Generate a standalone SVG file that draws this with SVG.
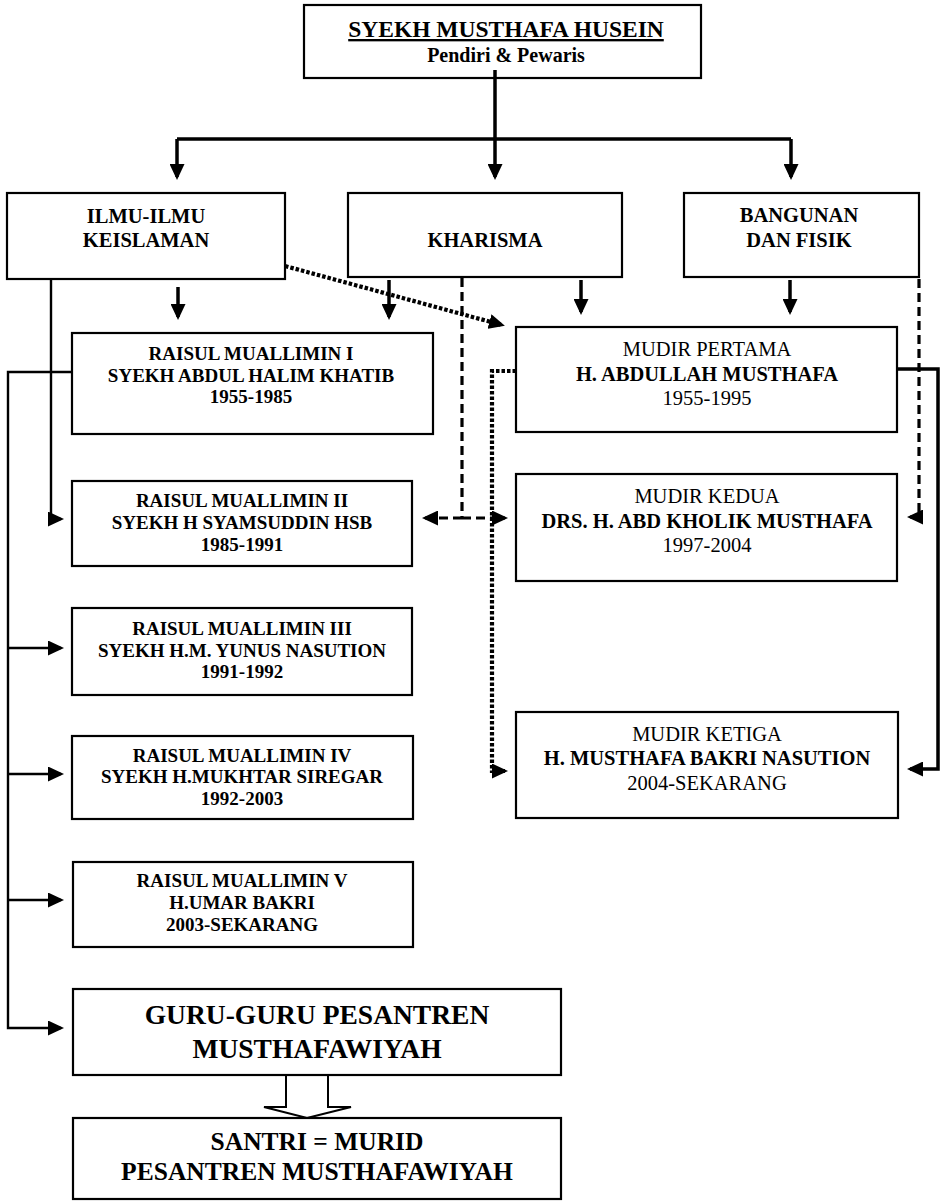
<svg xmlns="http://www.w3.org/2000/svg" width="941" height="1202" viewBox="0 0 941 1202">
<defs>
<style>
.box{fill:#fff;stroke:#000;stroke-width:2.2}
.t{font-family:"Liberation Serif","Times New Roman",serif;fill:#000;text-anchor:middle}
.b{font-weight:bold}
.cat{font-size:20.5px;font-weight:bold}
.rm{font-size:19px;font-weight:bold}
.md{font-size:20.5px}
.big{font-size:27.5px;font-weight:bold}
.big2{font-size:25.5px;font-weight:bold}
.thick{fill:none;stroke:#000;stroke-width:3.5}
.thin{fill:none;stroke:#000;stroke-width:2.4}
.dash{fill:none;stroke:#000;stroke-width:3.2;stroke-dasharray:9 5}
.dot{fill:none;stroke:#000;stroke-width:4.2;stroke-dasharray:3.5 2}
</style>
<marker id="ah" markerUnits="userSpaceOnUse" markerWidth="17" markerHeight="15" refX="13" refY="7.5" orient="auto" viewBox="0 0 17 15">
<path d="M0,0 L16,7.5 L0,15 z" fill="#000"/>
</marker>
</defs>

<g id="connectors">
<path class="thick" d="M495,70 V177" marker-end="url(#ah)"/>
<path class="thick" d="M177,139 H791"/>
<path class="thick" d="M177,139 V177" marker-end="url(#ah)"/>
<path class="thick" d="M791,139 V177" marker-end="url(#ah)"/>
<path class="thick" d="M178,287 V317" marker-end="url(#ah)"/>
<path class="thick" d="M389,280 V317" marker-end="url(#ah)"/>
<path class="thick" d="M581,280 V312" marker-end="url(#ah)"/>
<path class="thick" d="M790,280 V312" marker-end="url(#ah)"/>
<path class="dot" d="M285,266 L502,325" marker-end="url(#ah)"/>
<path class="thin" d="M51,279 V519 H61" marker-end="url(#ah)"/>
<path class="dash" d="M462,278 V518"/>
<path class="dash" d="M462,518 H425" marker-end="url(#ah)"/>
<path class="dash" d="M462,518 H505" marker-end="url(#ah)"/>
<path class="dash" d="M919,279 V517 H910" marker-end="url(#ah)"/>
<path class="dot" d="M516,371 H492 V771 H505" marker-end="url(#ah)"/>
<path class="thick" d="M897,369 H938 V769 H910" marker-end="url(#ah)"/>
<path class="thin" d="M72,372 H8 V1028 H61" marker-end="url(#ah)"/>
<path class="thin" d="M8,648 H61" marker-end="url(#ah)"/>
<path class="thin" d="M8,774 H61" marker-end="url(#ah)"/>
<path class="thin" d="M8,900 H61" marker-end="url(#ah)"/>
<polygon points="286,1075 286,1107 264,1107 307,1118 351,1107 328,1107 328,1075" fill="#fff" stroke="#000" stroke-width="2"/>
</g>

<g id="founder">
<rect class="box" x="304" y="5" width="397" height="73"/>
<text class="t b" x="506" y="37" font-size="23.5" text-decoration="underline">SYEKH MUSTHAFA HUSEIN</text>
<text class="t b" x="506" y="62" font-size="20">Pendiri &amp; Pewaris</text>
<path class="thick" d="M495,70 V79"/>
</g>

<g id="ilmu">
<rect class="box" x="7" y="193" width="278" height="86"/>
<text class="t cat" x="146" y="223">ILMU-ILMU</text>
<text class="t cat" x="146" y="247">KEISLAMAN</text>
</g>

<g id="kharisma">
<rect class="box" x="348" y="193" width="274" height="84"/>
<text class="t cat" x="485" y="247">KHARISMA</text>
</g>

<g id="bangunan">
<rect class="box" x="684" y="193" width="235" height="84"/>
<text class="t cat" x="799" y="222">BANGUNAN</text>
<text class="t cat" x="799" y="247">DAN FISIK</text>
</g>

<g id="raisul1">
<rect class="box" x="72" y="333" width="361" height="101"/>
<text class="t rm" x="251" y="360">RAISUL MUALLIMIN I</text>
<text class="t rm" x="251" y="382">SYEKH ABDUL HALIM KHATIB</text>
<text class="t rm" x="251" y="403">1955-1985</text>
</g>

<g id="mudir1">
<rect class="box" x="516" y="327" width="381" height="105"/>
<text class="t md" x="707" y="356">MUDIR PERTAMA</text>
<text class="t md b" x="707" y="381">H. ABDULLAH MUSTHAFA</text>
<text class="t md" x="707" y="405">1955-1995</text>
</g>

<g id="raisul2">
<rect class="box" x="72" y="481" width="340" height="85"/>
<text class="t rm" x="242" y="507">RAISUL MUALLIMIN II</text>
<text class="t rm" x="242" y="529">SYEKH H SYAMSUDDIN HSB</text>
<text class="t rm" x="242" y="551">1985-1991</text>
</g>

<g id="mudir2">
<rect class="box" x="516" y="474" width="381" height="107"/>
<text class="t md" x="707" y="503">MUDIR KEDUA</text>
<text class="t md b" x="707" y="528">DRS. H. ABD KHOLIK MUSTHAFA</text>
<text class="t md" x="707" y="552">1997-2004</text>
</g>

<g id="raisul3">
<rect class="box" x="72" y="608" width="340" height="87"/>
<text class="t rm" x="242" y="635">RAISUL MUALLIMIN III</text>
<text class="t rm" x="242" y="657">SYEKH H.M. YUNUS NASUTION</text>
<text class="t rm" x="242" y="678">1991-1992</text>
</g>

<g id="raisul4">
<rect class="box" x="72" y="736" width="341" height="83"/>
<text class="t rm" x="242" y="762">RAISUL MUALLIMIN IV</text>
<text class="t rm" x="242" y="783">SYEKH H.MUKHTAR SIREGAR</text>
<text class="t rm" x="242" y="805">1992-2003</text>
</g>

<g id="raisul5">
<rect class="box" x="73" y="862" width="340" height="85"/>
<text class="t rm" x="242" y="887">RAISUL MUALLIMIN V</text>
<text class="t rm" x="242" y="909">H.UMAR BAKRI</text>
<text class="t rm" x="242" y="931">2003-SEKARANG</text>
</g>

<g id="mudir3">
<rect class="box" x="516" y="712" width="382" height="106"/>
<text class="t md" x="707" y="741">MUDIR KETIGA</text>
<text class="t md b" x="707" y="765">H. MUSTHAFA BAKRI NASUTION</text>
<text class="t md" x="707" y="790">2004-SEKARANG</text>
</g>

<g id="guru">
<rect class="box" x="73" y="989" width="488" height="86"/>
<text class="t big" x="317" y="1024">GURU-GURU PESANTREN</text>
<text class="t big" x="317" y="1058">MUSTHAFAWIYAH</text>
</g>

<g id="santri">
<rect class="box" x="73" y="1118" width="488" height="81"/>
<text class="t big2" x="317" y="1150">SANTRI = MURID</text>
<text class="t big2" x="317" y="1180">PESANTREN MUSTHAFAWIYAH</text>
</g>
</svg>
